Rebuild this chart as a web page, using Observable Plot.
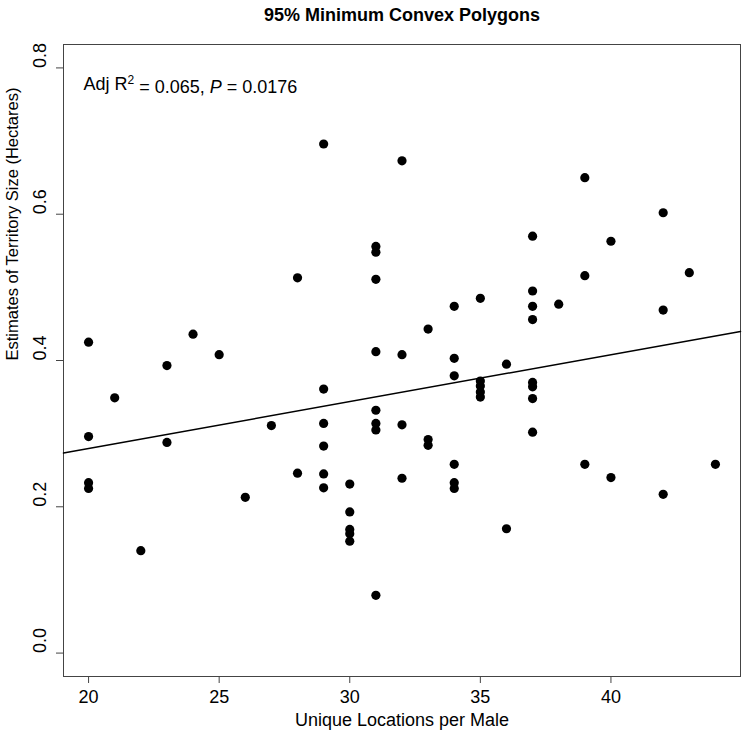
<!DOCTYPE html>
<html>
<head>
<meta charset="utf-8">
<script src="https://cdn.jsdelivr.net/npm/d3@7"></script>
<script src="https://cdn.jsdelivr.net/npm/@observablehq/plot@0.6"></script>
<style>
  html, body { margin: 0; padding: 0; background: #fff; }
</style>
</head>
<body>
<div id="chart"></div>
<script>
// ---- Data ----
const title = "95% Minimum Convex Polygons";
const xLabel = "Unique Locations per Male";
const yLabel = "Estimates of Territory Size (Hectares)";
const xTicks = [20, 25, 30, 35, 40];
const yTicks = [0.0, 0.2, 0.4, 0.6, 0.8];
const xDomain = [19.04, 44.96];
const yDomain = [-0.032, 0.832];

const locations = [20,20,20,20,21,22,23,23,24,25,26,27,28,28,29,29,29,29,29,29,
  30,30,30,30,30,31,31,31,31,31,31,31,31,32,32,32,32,33,33,33,
  34,34,34,34,34,34,35,35,35,35,35,36,36,37,37,37,37,37,37,37,37,
  38,39,39,39,40,40,42,42,42,43,44];
const territory = [0.425,0.296,0.233,0.225, 0.349, 0.140, 0.393,0.288, 0.436, 0.408,
  0.213, 0.311, 0.513,0.246, 0.696,0.361,0.314,0.283,0.245,0.226,
  0.231,0.193,0.169,0.163,0.153, 0.556,0.548,0.511,0.412,0.332,0.314,0.305,0.079,
  0.673,0.408,0.312,0.239, 0.443,0.292,0.284,
  0.474,0.403,0.379,0.258,0.233,0.225, 0.485,0.372,0.365,0.357,0.350,
  0.395,0.170, 0.570,0.495,0.474,0.456,0.370,0.364,0.348,0.302,
  0.477, 0.650,0.516,0.258, 0.563,0.240, 0.602,0.469,0.217, 0.520, 0.258];

// fitted regression line
const fitIntercept = 0.1515;
const fitSlope = 0.00641;
const statsText = "Adj R2 = 0.065, P = 0.0176";

// ---- Build ----
const points = locations.map((x, i) => ({x, y: territory[i]}));
const fitLine = xDomain.map(x => ({x, y: fitIntercept + fitSlope * x}));
const font = "'Liberation Sans', Arial, Helvetica, sans-serif";

const chart = Plot.plot({
  width: 742,
  height: 741,
  marginLeft: 63,
  marginRight: 2,
  marginTop: 44,
  marginBottom: 65,
  style: {fontFamily: font, fontSize: "18px", background: "#fff", color: "#000"},
  x: {domain: xDomain, axis: null},
  y: {domain: yDomain, axis: null},
  marks: [
    Plot.frame({stroke: "#444", strokeWidth: 1}),
    Plot.axisX(xTicks, {tickSize: 7, tickPadding: 7, fontSize: 18, stroke: "#444", label: null, tickFormat: d => String(d)}),
    Plot.axisY(yTicks, {tickSize: 7, tickFormat: () => "", stroke: "#444", label: null}),
    Plot.text(yTicks, {y: d => d, frameAnchor: "left", dx: -23, rotate: -90, text: d => d.toFixed(1), fontSize: 18, fill: "#000", lineAnchor: "middle"}),
    Plot.text([yLabel], {frameAnchor: "left", dx: -51, rotate: -90, text: d => d, fontSize: 16.5, fill: "#000", lineAnchor: "middle"}),
    Plot.text([xLabel], {frameAnchor: "bottom", dy: 44, text: d => d, fontSize: 18, fill: "#000", lineAnchor: "middle"}),
    Plot.text([title], {frameAnchor: "top", dy: -29, text: d => d, fontSize: 18, fontWeight: "bold", fill: "#000", lineAnchor: "middle"}),
    Plot.text([statsText], {frameAnchor: "top-left", dx: 20, dy: 40, text: d => d, fontSize: 18, fill: "#000", textAnchor: "start", lineAnchor: "middle", className: "stats"}),
    Plot.line(fitLine, {x: "x", y: "y", stroke: "#000", strokeWidth: 1.5}),
    Plot.dot(points, {x: "x", y: "y", r: 4.6, fill: "#000", stroke: "none"})
  ]
});

document.getElementById("chart").appendChild(chart);

// rich formatting for the statistics label (superscript 2, italic P)
d3.select(chart).selectAll("g.stats text").each(function() {
  const t = d3.select(this);
  t.text(null);
  t.append("tspan").text("Adj R");
  t.append("tspan").attr("dy", "-0.5em").attr("font-size", "12px").text("2");
  t.append("tspan").attr("dy", "0.5em").text(" = 0.065, ");
  t.append("tspan").attr("font-style", "italic").text("P");
  t.append("tspan").text(" = 0.0176");
});
</script>
</body>
</html>
